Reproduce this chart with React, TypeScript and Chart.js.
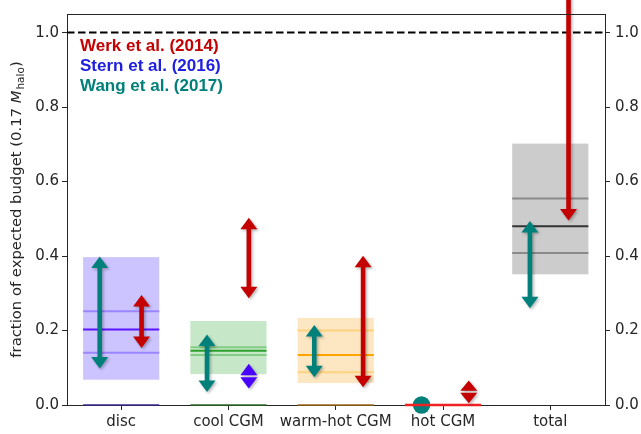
import React, { useEffect, useRef } from 'react';
import { Chart, registerables } from 'chart.js';
Chart.register(...registerables);

// ---- data ----
const categories = ['disc', 'cool CGM', 'warm-hot CGM', 'hot CGM', 'total'];
const yTickValues = [0, 0.2, 0.4, 0.6, 0.8, 1.0];

// model boxes (null = no box)
const boxLow: (number | null)[] = [0.068, 0.083, 0.059, null, 0.351];
const boxHigh: (number | null)[] = [0.397, 0.2255, 0.234, null, 0.702];
const boxMedian: (number | null)[] = [0.203, 0.1455, 0.134, 0.0, 0.48];
const boxUpper: (number | null)[] = [0.252, 0.155, 0.2, null, 0.5545];
const boxLower: (number | null)[] = [0.14, 0.134, 0.088, null, 0.408];
const boxBase: (number | null)[] = [0, 0, 0, null, null];

// Wang et al. (2017)
const wangOffset = [-0.2, -0.2, -0.2, -0.2, -0.19];
const wangLow: (number | null)[] = [0.098, 0.035, 0.0745, null, 0.26];
const wangHigh: (number | null)[] = [0.399, 0.189, 0.215, null, 0.494];
const wangPoint: (number | null)[] = [null, null, null, 0.0, null];

// Werk et al. (2014)
const werkOffset = [0.19, 0.19, 0.255, 0.24, 0.17];
const werkLow: (number | null)[] = [0.153, 0.287, 0.048, 0.005, 0.4955];
const werkHigh: (number | null)[] = [0.2955, 0.503, 0.401, 0.066, 1.12];
const werkUpperHead = [true, true, true, true, false];

// Stern et al. (2016)
const sternOffset = [0, 0.19, 0, 0, 0];
const sternLow: (number | null)[] = [null, 0.044, null, null, null];
const sternHigh: (number | null)[] = [null, 0.111, null, null, null];

const budgetLine = 1.0;
const legendNames = ['Werk et al. (2014)', 'Stern et al. (2016)', 'Wang et al. (2017)'];

// ---- styles ----
const boxFill = ['#cbc4ff', '#c6e8c9', '#fde7c2', '#ffffff', '#cccccc'];
const medianColor = ['#5a14ff', '#2ca02c', '#ffa500', '#ee2222', '#333333'];
const sideColor = ['#9c86ff', '#84cc84', '#ffd27f', '#ee2222', '#8a8a8a'];
const baseColor = ['#34288f', '#2a6a2a', '#9a6a1a', '#000', '#000'];
const TEAL = '#00807a';
const RED = '#c40000';
const BLUE = '#4a00ff';
const legendColors = ['#c40000', '#2020e0', '#00807a'];
const HALF = 0.355;
const TICK = '#262626';
const FONT = '"DejaVu Sans", sans-serif';

function seg(x: number, y: number | null, color: string, width: number, clip = true) {
  return y === null
    ? null
    : {
        type: 'line' as const,
        data: [
          { x: x - HALF, y },
          { x: x + HALF, y },
        ],
        borderColor: color,
        borderWidth: width,
        pointRadius: 0,
        showLine: true,
        clip: clip ? undefined : false,
      };
}

function drawArrow(
  ctx: CanvasRenderingContext2D,
  x: number,
  yTop: number,
  yBot: number,
  color: string,
  headTop: boolean,
  headBot: boolean
) {
  const sw = 4.6;
  const hw = 8.5;
  let hl = 11.5;
  const span = yBot - yTop;
  ctx.save();
  ctx.fillStyle = color;
  ctx.shadowColor = 'rgba(0,0,0,0.3)';
  ctx.shadowBlur = 3;
  ctx.shadowOffsetX = 1.5;
  ctx.shadowOffsetY = 1.5;
  if (headTop && headBot && span < 2 * hl + 4) {
    hl = (span - 2) / 2;
    ctx.beginPath();
    ctx.moveTo(x, yTop);
    ctx.lineTo(x + hw, yTop + hl);
    ctx.lineTo(x - hw, yTop + hl);
    ctx.closePath();
    ctx.moveTo(x, yBot);
    ctx.lineTo(x + hw, yBot - hl);
    ctx.lineTo(x - hw, yBot - hl);
    ctx.closePath();
    ctx.fill();
    ctx.restore();
    return;
  }
  const t = headTop ? yTop + hl : yTop;
  const b = headBot ? yBot - hl : yBot;
  ctx.beginPath();
  if (headTop) {
    ctx.moveTo(x, yTop);
    ctx.lineTo(x + hw, t);
    ctx.lineTo(x + sw / 2, t);
  } else {
    ctx.moveTo(x + sw / 2, t);
  }
  if (headBot) {
    ctx.lineTo(x + sw / 2, b);
    ctx.lineTo(x + hw, b);
    ctx.lineTo(x, yBot);
    ctx.lineTo(x - hw, b);
    ctx.lineTo(x - sw / 2, b);
  } else {
    ctx.lineTo(x + sw / 2, b);
    ctx.lineTo(x - sw / 2, b);
  }
  if (headTop) {
    ctx.lineTo(x - sw / 2, t);
    ctx.lineTo(x - hw, t);
  } else {
    ctx.lineTo(x - sw / 2, t);
  }
  ctx.closePath();
  ctx.fill();
  ctx.restore();
}

const boxPlugin = {
  id: 'boxes',
  beforeDatasetsDraw(chart: any) {
    const { ctx, scales } = chart;
    const xs = scales.x;
    const ys = scales.y;
    ctx.save();
    categories.forEach((_, i) => {
      const lo = boxLow[i];
      const hi = boxHigh[i];
      if (lo === null || hi === null) return;
      const x0 = xs.getPixelForValue(i - HALF);
      const x1 = xs.getPixelForValue(i + HALF);
      const y0 = ys.getPixelForValue(hi);
      const y1 = ys.getPixelForValue(lo);
      ctx.fillStyle = boxFill[i];
      ctx.fillRect(x0, y0, x1 - x0, y1 - y0);
    });
    ctx.restore();
  },
  afterDatasetsDraw(chart: any) {
    const { ctx, scales } = chart;
    const xs = scales.x;
    const ys = scales.y;
    categories.forEach((_, i) => {
      const wl = wangLow[i];
      const wh = wangHigh[i];
      if (wl !== null && wh !== null) {
        drawArrow(ctx, xs.getPixelForValue(i + wangOffset[i]), ys.getPixelForValue(wh), ys.getPixelForValue(wl), TEAL, true, true);
      }
      const rl = werkLow[i];
      const rh = werkHigh[i];
      if (rl !== null && rh !== null) {
        drawArrow(ctx, xs.getPixelForValue(i + werkOffset[i]), ys.getPixelForValue(rh), ys.getPixelForValue(rl), RED, werkUpperHead[i], true);
      }
      const sl = sternLow[i];
      const sh = sternHigh[i];
      if (sl !== null && sh !== null) {
        drawArrow(ctx, xs.getPixelForValue(i + sternOffset[i]), ys.getPixelForValue(sh), ys.getPixelForValue(sl), BLUE, true, true);
      }
    });
  },
  afterDraw(chart: any) {
    const { ctx, chartArea } = chart;
    ctx.save();
    // frame top
    ctx.strokeStyle = TICK;
    ctx.lineWidth = 1;
    ctx.beginPath();
    ctx.moveTo(chartArea.left, chartArea.top + 0.5);
    ctx.lineTo(chartArea.right, chartArea.top + 0.5);
    ctx.stroke();
    // legend texts
    ctx.font = 'bold 17px "Liberation Sans", Arial, sans-serif';
    ctx.textBaseline = 'alphabetic';
    ctx.textAlign = 'left';
    legendNames.forEach((n, k) => {
      ctx.fillStyle = legendColors[k];
      ctx.fillText(n, 80, 50.5 + k * 20);
    });
    // y title
    const midY = (chartArea.top + chartArea.bottom) / 2;
    ctx.translate(20.5, midY);
    ctx.rotate(-Math.PI / 2);
    ctx.fillStyle = TICK;
    const p1 = 'fraction of expected budget (0.17 ';
    const f1 = `14.8px ${FONT}`;
    const f2 = `italic 14.8px ${FONT}`;
    const f3 = `10.5px ${FONT}`;
    ctx.font = f1;
    const w1 = ctx.measureText(p1).width;
    const w4 = ctx.measureText(')').width;
    ctx.font = f2;
    const w2 = ctx.measureText('M').width;
    ctx.font = f3;
    const w3 = ctx.measureText('halo').width;
    let x = -(w1 + w2 + w3 + w4 + 1) / 2;
    ctx.textAlign = 'left';
    ctx.font = f1;
    ctx.fillText(p1, x, 0);
    x += w1;
    ctx.font = f2;
    ctx.fillText('M', x, 0);
    x += w2 + 1;
    ctx.font = f3;
    ctx.fillText('halo', x, 3);
    x += w3;
    ctx.font = f1;
    ctx.fillText(')', x, 0);
    ctx.restore();
  },
};

export default function App() {
  const ref = useRef<HTMLCanvasElement>(null);
  useEffect(() => {
    const canvas = ref.current!;
    const datasets: any[] = [];
    categories.forEach((_, i) => {
      [
        seg(i, boxUpper[i], sideColor[i], 2),
        seg(i, boxLower[i], sideColor[i], 2),
        seg(i, boxMedian[i], medianColor[i], i === 3 ? 2.5 : 2, i !== 3),
        seg(i, boxBase[i], baseColor[i], 1.5, false),
      ].forEach((d) => d && datasets.push(d));
    });
    datasets.push({
      type: 'line',
      data: [
        { x: -0.505, y: budgetLine },
        { x: 4.51, y: budgetLine },
      ],
      borderColor: '#000',
      borderWidth: 2,
      borderDash: [7.5, 3.5],
      pointRadius: 0,
      showLine: true,
    });
    datasets.push({
      type: 'scatter',
      data: wangPoint
        .map((v, i) => (v === null ? null : { x: i + wangOffset[i], y: v }))
        .filter((p) => p !== null),
      backgroundColor: TEAL,
      borderWidth: 0,
      pointRadius: 8.7,
      clip: false,
    });

    const yAxisCommon = {
      type: 'linear' as const,
      min: 0,
      max: 1.05,
      afterBuildTicks: (s: any) => {
        s.ticks = yTickValues.map((v) => ({ value: v }));
      },
      ticks: {
        callback: (v: any) => Number(v).toFixed(1),
        font: { family: FONT, size: 15 },
        color: TICK,
      },
      grid: { drawOnChartArea: false, tickLength: 5, tickColor: TICK, tickWidth: 1 },
      border: { color: TICK, width: 1 },
    };

    const chart = new Chart(canvas, {
      type: 'scatter',
      data: { datasets },
      options: {
        responsive: false,
        animation: false,
        devicePixelRatio: 1,
        layout: { padding: { top: 4, left: 0, right: 0, bottom: 0 } },
        plugins: { legend: { display: false }, tooltip: { enabled: false } },
        scales: {
          x: {
            type: 'linear',
            min: -0.505,
            max: 4.51,
            afterBuildTicks: (s: any) => {
              s.ticks = categories.map((_, i) => ({ value: i }));
            },
            afterFit: (s: any) => {
              s.height = 29;
            },
            ticks: {
              callback: (v: any) => categories[Math.round(Number(v))] ?? '',
              font: { family: FONT, size: 15 },
              color: TICK,
              padding: 3.5,
              maxRotation: 0,
              autoSkip: false,
            },
            grid: { drawOnChartArea: false, tickLength: 5, tickColor: TICK, tickWidth: 1 },
            border: { color: TICK, width: 1 },
          },
          y: {
            ...yAxisCommon,
            position: 'left',
            afterFit: (s: any) => {
              s.width = 67;
            },
            ticks: { ...yAxisCommon.ticks, padding: 3 },
          },
          y2: {
            ...yAxisCommon,
            position: 'right',
            afterFit: (s: any) => {
              s.width = 36;
            },
            ticks: { ...yAxisCommon.ticks, padding: 5 },
          },
        },
      } as any,
      plugins: [boxPlugin],
    });
    return () => chart.destroy();
  }, []);
  return (
    <div style={{ position: 'absolute', left: 0, top: 0, width: 641, height: 434, background: '#fff' }}>
      <canvas ref={ref} width={641} height={434} style={{ width: 641, height: 434, display: 'block' }} />
    </div>
  );
}
